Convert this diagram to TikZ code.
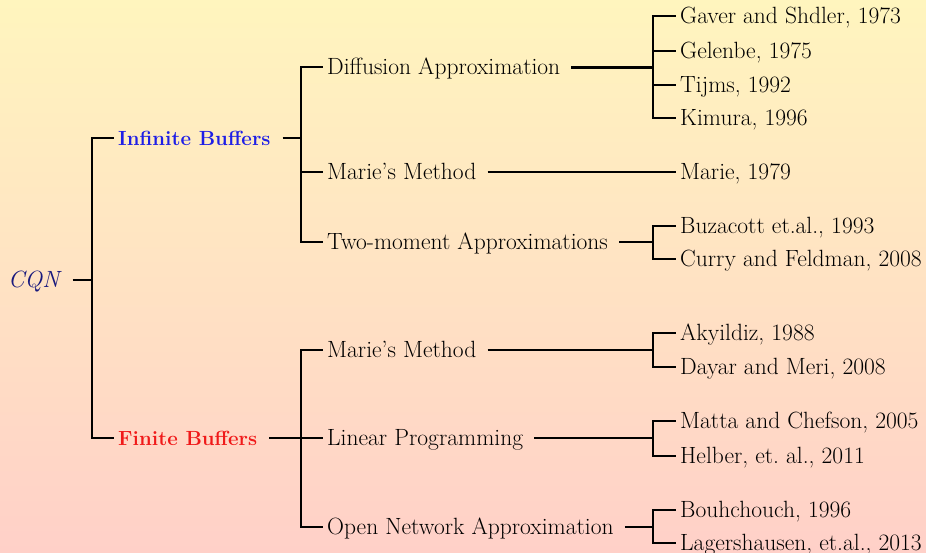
\documentclass[tikz,border=0pt]{standalone}
\usepackage{fontspec}
\definecolor{bgtop}{RGB}{255,245,190}
\definecolor{bgbot}{RGB}{255,208,200}
\definecolor{infblue}{RGB}{30,30,230}
\definecolor{finred}{RGB}{240,25,25}
\definecolor{cqnblue}{RGB}{25,25,125}
\definecolor{ink}{RGB}{0,0,0}
\tikzset{
  lbl/.style={anchor=west, inner xsep=4pt, inner ysep=0pt, text height=15pt, text depth=0pt,
    font=\fontsize{23.5}{28}\selectfont, text=ink},
  cat/.style={lbl, font=\fontsize{20.5}{24}\selectfont\bfseries},
  ln/.style={draw=black, line width=2pt},
  lnb/.style={draw=black, line width=2.8pt},
}
\begin{document}
\begin{tikzpicture}[x=1pt,y=1pt]
\shade[top color=bgtop, bottom color=bgbot] (0,0) rectangle (926,-553);
\useasboundingbox (0,0) rectangle (926,-553);
% root
\node[lbl, text=cqnblue, font=\fontsize{23.5}{28}\selectfont\itshape] (cqn) at (4,-280) {CQN};
\coordinate (j0) at (92,-280);
% level 1
\node[cat, text=infblue] (inf) at (114,-138) {Infinite Buffers};
\node[cat, text=finred] (fin) at (114,-438) {Finite Buffers};
% level 2
\node[lbl] (dif) at (323,-67.5) {Diffusion Approximation};
\node[lbl] (mm1) at (323,-172.3) {Marie's Method};
\node[lbl] (two) at (323,-242.5) {Two-moment Approximations};
\node[lbl] (mm2) at (323,-350) {Marie's Method};
\node[lbl] (lin) at (323,-438) {Linear Programming};
\node[lbl] (opn) at (323,-526.5) {Open Network Approximation};
\coordinate (j1) at (300.5,-138);
\coordinate (j2) at (300.5,-438);
% level 3
\node[lbl] (g1) at (676,-15.7) {Gaver and Shdler, 1973};
\node[lbl] (g2) at (676,-51) {Gelenbe, 1975};
\node[lbl] (g3) at (676,-85) {Tijms, 1992};
\node[lbl] (g4) at (676,-118.3) {Kimura, 1996};
\node[lbl] (m1) at (676,-172.3) {Marie, 1979};
\node[lbl] (b1) at (676,-226) {Buzacott et.al., 1993};
\node[lbl] (b2) at (676,-259.3) {Curry and Feldman, 2008};
\node[lbl] (a1) at (676,-332.7) {Akyildiz, 1988};
\node[lbl] (a2) at (676,-367) {Dayar and Meri, 2008};
\node[lbl] (l1) at (676,-420.7) {Matta and Chefson, 2005};
\node[lbl] (l2) at (676,-455.7) {Helber, et.~al., 2011};
\node[lbl] (o1) at (676,-510) {Bouhchouch, 1996};
\node[lbl] (o2) at (676,-543.3) {Lagershausen, et.al., 2013};
\coordinate (jd) at (653,-67.5);
\coordinate (jt) at (653,-242.5);
\coordinate (jm) at (653,-350);
\coordinate (jl) at (653,-438);
\coordinate (jo) at (653,-526.5);
% connectors root
\draw[ln] ([xshift=9pt]cqn.east) -- (j0);
\draw[lnb] (j0) |- (inf.west);
\draw[lnb] (j0) |- (fin.west);
% infinite buffers
\draw[ln] ([xshift=8pt]inf.east) -- (j1);
\draw[ln] (j1) |- (dif.west);
\draw[ln] (j1) |- (mm1.west);
\draw[ln] (j1) |- (two.west);
% finite buffers
\draw[lnb] ([xshift=8pt]fin.east) -- (j2) -- (lin.west);
\draw[ln] (j2) |- (mm2.west);
\draw[ln] (j2) |- (opn.west);
% diffusion
\draw[lnb] ([xshift=7pt]dif.east) -- (jd);
\draw[ln] (jd) |- (g1.west);
\draw[ln] (jd) |- (g2.west);
\draw[ln] (jd) |- (g3.west);
\draw[ln] (jd) |- (g4.west);
% marie 1
\draw[ln] ([xshift=7pt]mm1.east) -- (m1.west);
% two-moment
\draw[ln] ([xshift=7pt]two.east) -- (jt);
\draw[ln] (jt) |- (b1.west);
\draw[ln] (jt) |- (b2.west);
% marie 2
\draw[ln] ([xshift=7pt]mm2.east) -- (jm);
\draw[ln] (jm) |- (a1.west);
\draw[ln] (jm) |- (a2.west);
% linear
\draw[lnb] ([xshift=7pt]lin.east) -- (jl);
\draw[ln] (jl) |- (l1.west);
\draw[ln] (jl) |- (l2.west);
% open network
\draw[ln] ([xshift=7pt]opn.east) -- (jo);
\draw[ln] (jo) |- (o1.west);
\draw[ln] (jo) |- (o2.west);
\end{tikzpicture}
\end{document}
